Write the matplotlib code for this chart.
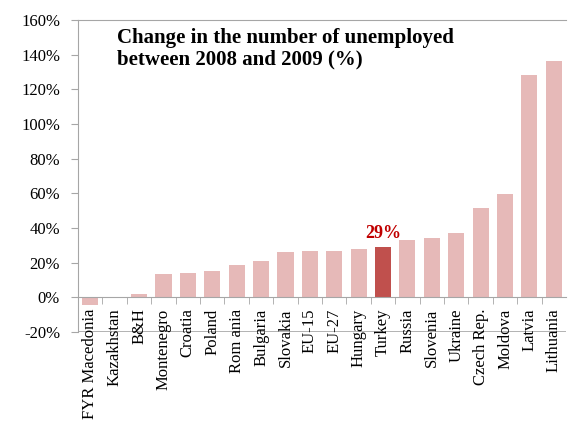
import numpy as np
import matplotlib
matplotlib.use("Agg")
import matplotlib.pyplot as plt
from matplotlib.ticker import FixedLocator, FuncFormatter

countries = ["FYR Macedonia", "Kazakhstan", "B&H", "Montenegro", "Croatia",
             "Poland", "Rom ania", "Bulgaria", "Slovakia", "EU-15", "EU-27",
             "Hungary", "Turkey", "Russia", "Slovenia", "Ukraine", "Czech Rep.",
             "Moldova", "Latvia", "Lithuania"]
change = [-4.7, 0.0, 1.8, 13.5, 14.3, 15.0, 18.7, 21.0, 26.2, 26.8, 26.8,
          28.1, 29.0, 33.0, 34.0, 37.0, 51.5, 59.6, 128.0, 136.3]
highlight = "Turkey"

plt.rcParams['font.family'] = ['Liberation Serif', 'DejaVu Serif']

fig = plt.figure(figsize=(5.7, 4.3), dpi=100)
ax = fig.add_axes([0.137, 0.228, 0.856, 0.7255])

x = np.arange(len(countries))
colors = ["#C0504D" if c == highlight else "#E6B9B8" for c in countries]
ax.bar(x, change, width=0.66, color=colors, zorder=2)

ax.set_xlim(-0.5, len(countries) - 0.5)
ax.set_ylim(-20, 160)
ax.set_yticks(np.arange(-20, 161, 20))
ax.yaxis.set_major_formatter(FuncFormatter(lambda v, p: f"{v:.0f}%"))

grey = "#A6A6A6"
ax.spines['bottom'].set_position(('data', 0))
ax.spines['right'].set_visible(False)
for s in ['bottom', 'left', 'top']:
    ax.spines[s].set_color(grey)
ax.axhline(-20, color=grey, lw=1.2, zorder=1)

ax.set_xticks(x)
ax.set_xticklabels(countries, rotation=90, fontsize=12)
ax.xaxis.set_minor_locator(FixedLocator(x[:-1] + 0.5))
ax.tick_params(axis='x', which='major', length=0, pad=8)
ax.tick_params(axis='x', which='minor', length=5, color=grey, direction='out')
ax.tick_params(axis='y', length=5, color=grey, labelsize=12, pad=8)

ti = countries.index(highlight)
ax.text(ti, change[ti] + 3, f"{change[ti]:.0f}%", ha='center', va='bottom',
        color="#C00000", fontsize=13, fontweight='bold')

ax.text(0.08, 0.975, "Change in the number of unemployed\nbetween 2008 and 2009 (%)",
        transform=ax.transAxes, ha='left', va='top', fontsize=15,
        fontweight='bold', linespacing=1.12)

fig.savefig("out.png", dpi=100)
